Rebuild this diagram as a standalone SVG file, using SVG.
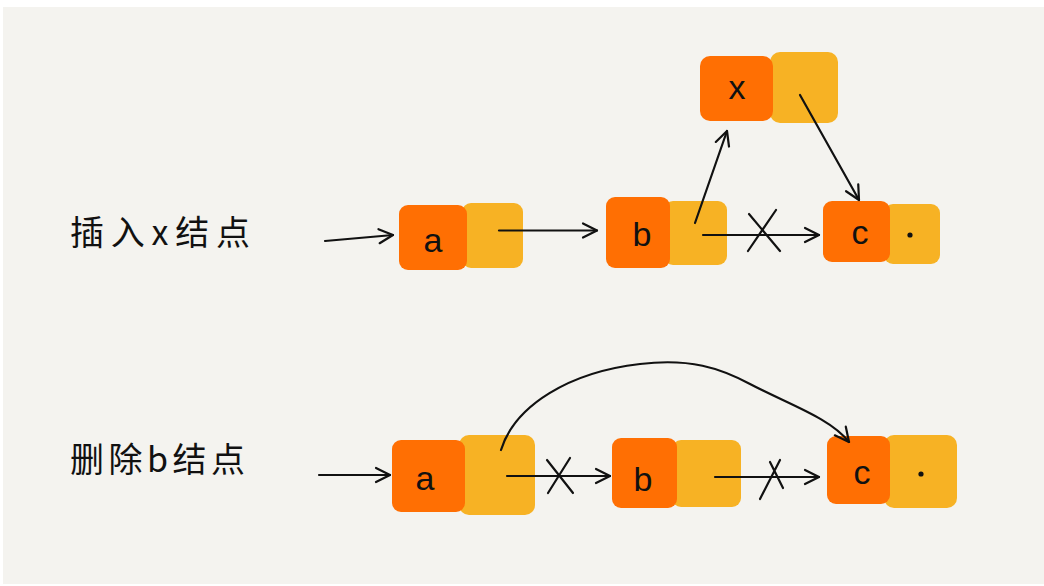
<svg xmlns="http://www.w3.org/2000/svg" width="1044" height="586" viewBox="0 0 1044 586">
<defs>
<style>
.bg{fill:#f4f3ef}
.o{fill:#ff6f03}
.y{fill:#f7b224}
.lbl{font-family:"Liberation Sans","DejaVu Sans",sans-serif;font-size:34px;fill:#111;text-anchor:middle;dominant-baseline:central}
.cap{font-family:"Noto Sans CJK SC","Liberation Sans",sans-serif;font-size:34px;fill:#111}
.ln{fill:none;stroke:#111;stroke-width:2.2;stroke-linecap:round}
</style>
<marker id="ah" markerUnits="userSpaceOnUse" markerWidth="20" markerHeight="18" viewBox="0 0 20 18" refX="16" refY="9" orient="auto">
<path d="M2,2 L16,9 L2,16" fill="none" stroke="#111" stroke-width="2.2" stroke-linecap="round" stroke-linejoin="round"/>
</marker>
</defs>
<rect x="0" y="0" width="1044" height="586" fill="#ffffff"/>
<rect class="bg" x="3" y="7" width="1041" height="577"/>

<g id="caption-insert"><text class="cap" x="70" y="245" textLength="180" lengthAdjust="spacing">插入x结点</text></g>
<g id="caption-delete"><text class="cap" x="70" y="472" textLength="175" lengthAdjust="spacing">删除b结点</text></g>

<g id="top-a">
<rect class="y" x="462" y="203" width="61" height="65" rx="9"/>
<rect class="o" x="399" y="205" width="68" height="65" rx="9"/>
<text class="lbl" x="433" y="240">a</text>
</g>
<g id="top-b">
<rect class="y" x="664" y="201" width="63" height="64" rx="9"/>
<rect class="o" x="606" y="197" width="64" height="71" rx="9"/>
<text class="lbl" x="642" y="234">b</text>
</g>
<g id="top-c">
<rect class="y" x="884" y="204" width="56" height="60" rx="9"/>
<rect class="o" x="823" y="201" width="67" height="61" rx="9"/>
<text class="lbl" x="860" y="232">c</text>
<circle cx="910" cy="235" r="2.6" fill="#111"/>
</g>
<g id="top-x">
<rect class="y" x="770" y="52" width="68" height="71" rx="10"/>
<rect class="o" x="700" y="56" width="73" height="65" rx="10"/>
<text class="lbl" x="737" y="87">x</text>
</g>

<g id="bot-a">
<rect class="y" x="459" y="435" width="76" height="80" rx="10"/>
<rect class="o" x="392" y="440" width="73" height="72" rx="9"/>
<text class="lbl" x="425" y="478">a</text>
</g>
<g id="bot-b">
<rect class="y" x="672" y="440" width="69" height="67" rx="9"/>
<rect class="o" x="612" y="438" width="65" height="70" rx="9"/>
<text class="lbl" x="643" y="479">b</text>
</g>
<g id="bot-c">
<rect class="y" x="884" y="435" width="73" height="73" rx="10"/>
<rect class="o" x="827" y="436" width="63" height="68" rx="9"/>
<text class="lbl" x="862" y="472">c</text>
<circle cx="921" cy="474" r="2.6" fill="#111"/>
</g>

<g id="connectors">
<path class="ln" d="M325,241 L393,235" marker-end="url(#ah)"/>
<path class="ln" d="M499,230.5 L597,230.5" marker-end="url(#ah)"/>
<path class="ln" d="M703,235 L819,235" marker-end="url(#ah)"/>
<path class="ln" d="M749,214 L780,251 M776,210 L748,251"/>
<path class="ln" d="M695,223 L727,131" marker-end="url(#ah)"/>
<path class="ln" d="M800,95 L859,200" marker-end="url(#ah)"/>

<path class="ln" d="M319,475 L390,475" marker-end="url(#ah)"/>
<path class="ln" d="M501,450 C515,405 570,372 640,364 C690,358 720,368 750,384 C790,405 830,418 849,442" stroke-width="2.5" marker-end="url(#ah)"/>
<path class="ln" d="M507,476 L610,476" marker-end="url(#ah)"/>
<path class="ln" d="M547,460 L573,493 M570,458 L548,493"/>
<path class="ln" d="M715,477 L819,477" marker-end="url(#ah)"/>
<path class="ln" d="M770,462 L783,488 M780,460 L760,499"/>
</g>
</svg>
